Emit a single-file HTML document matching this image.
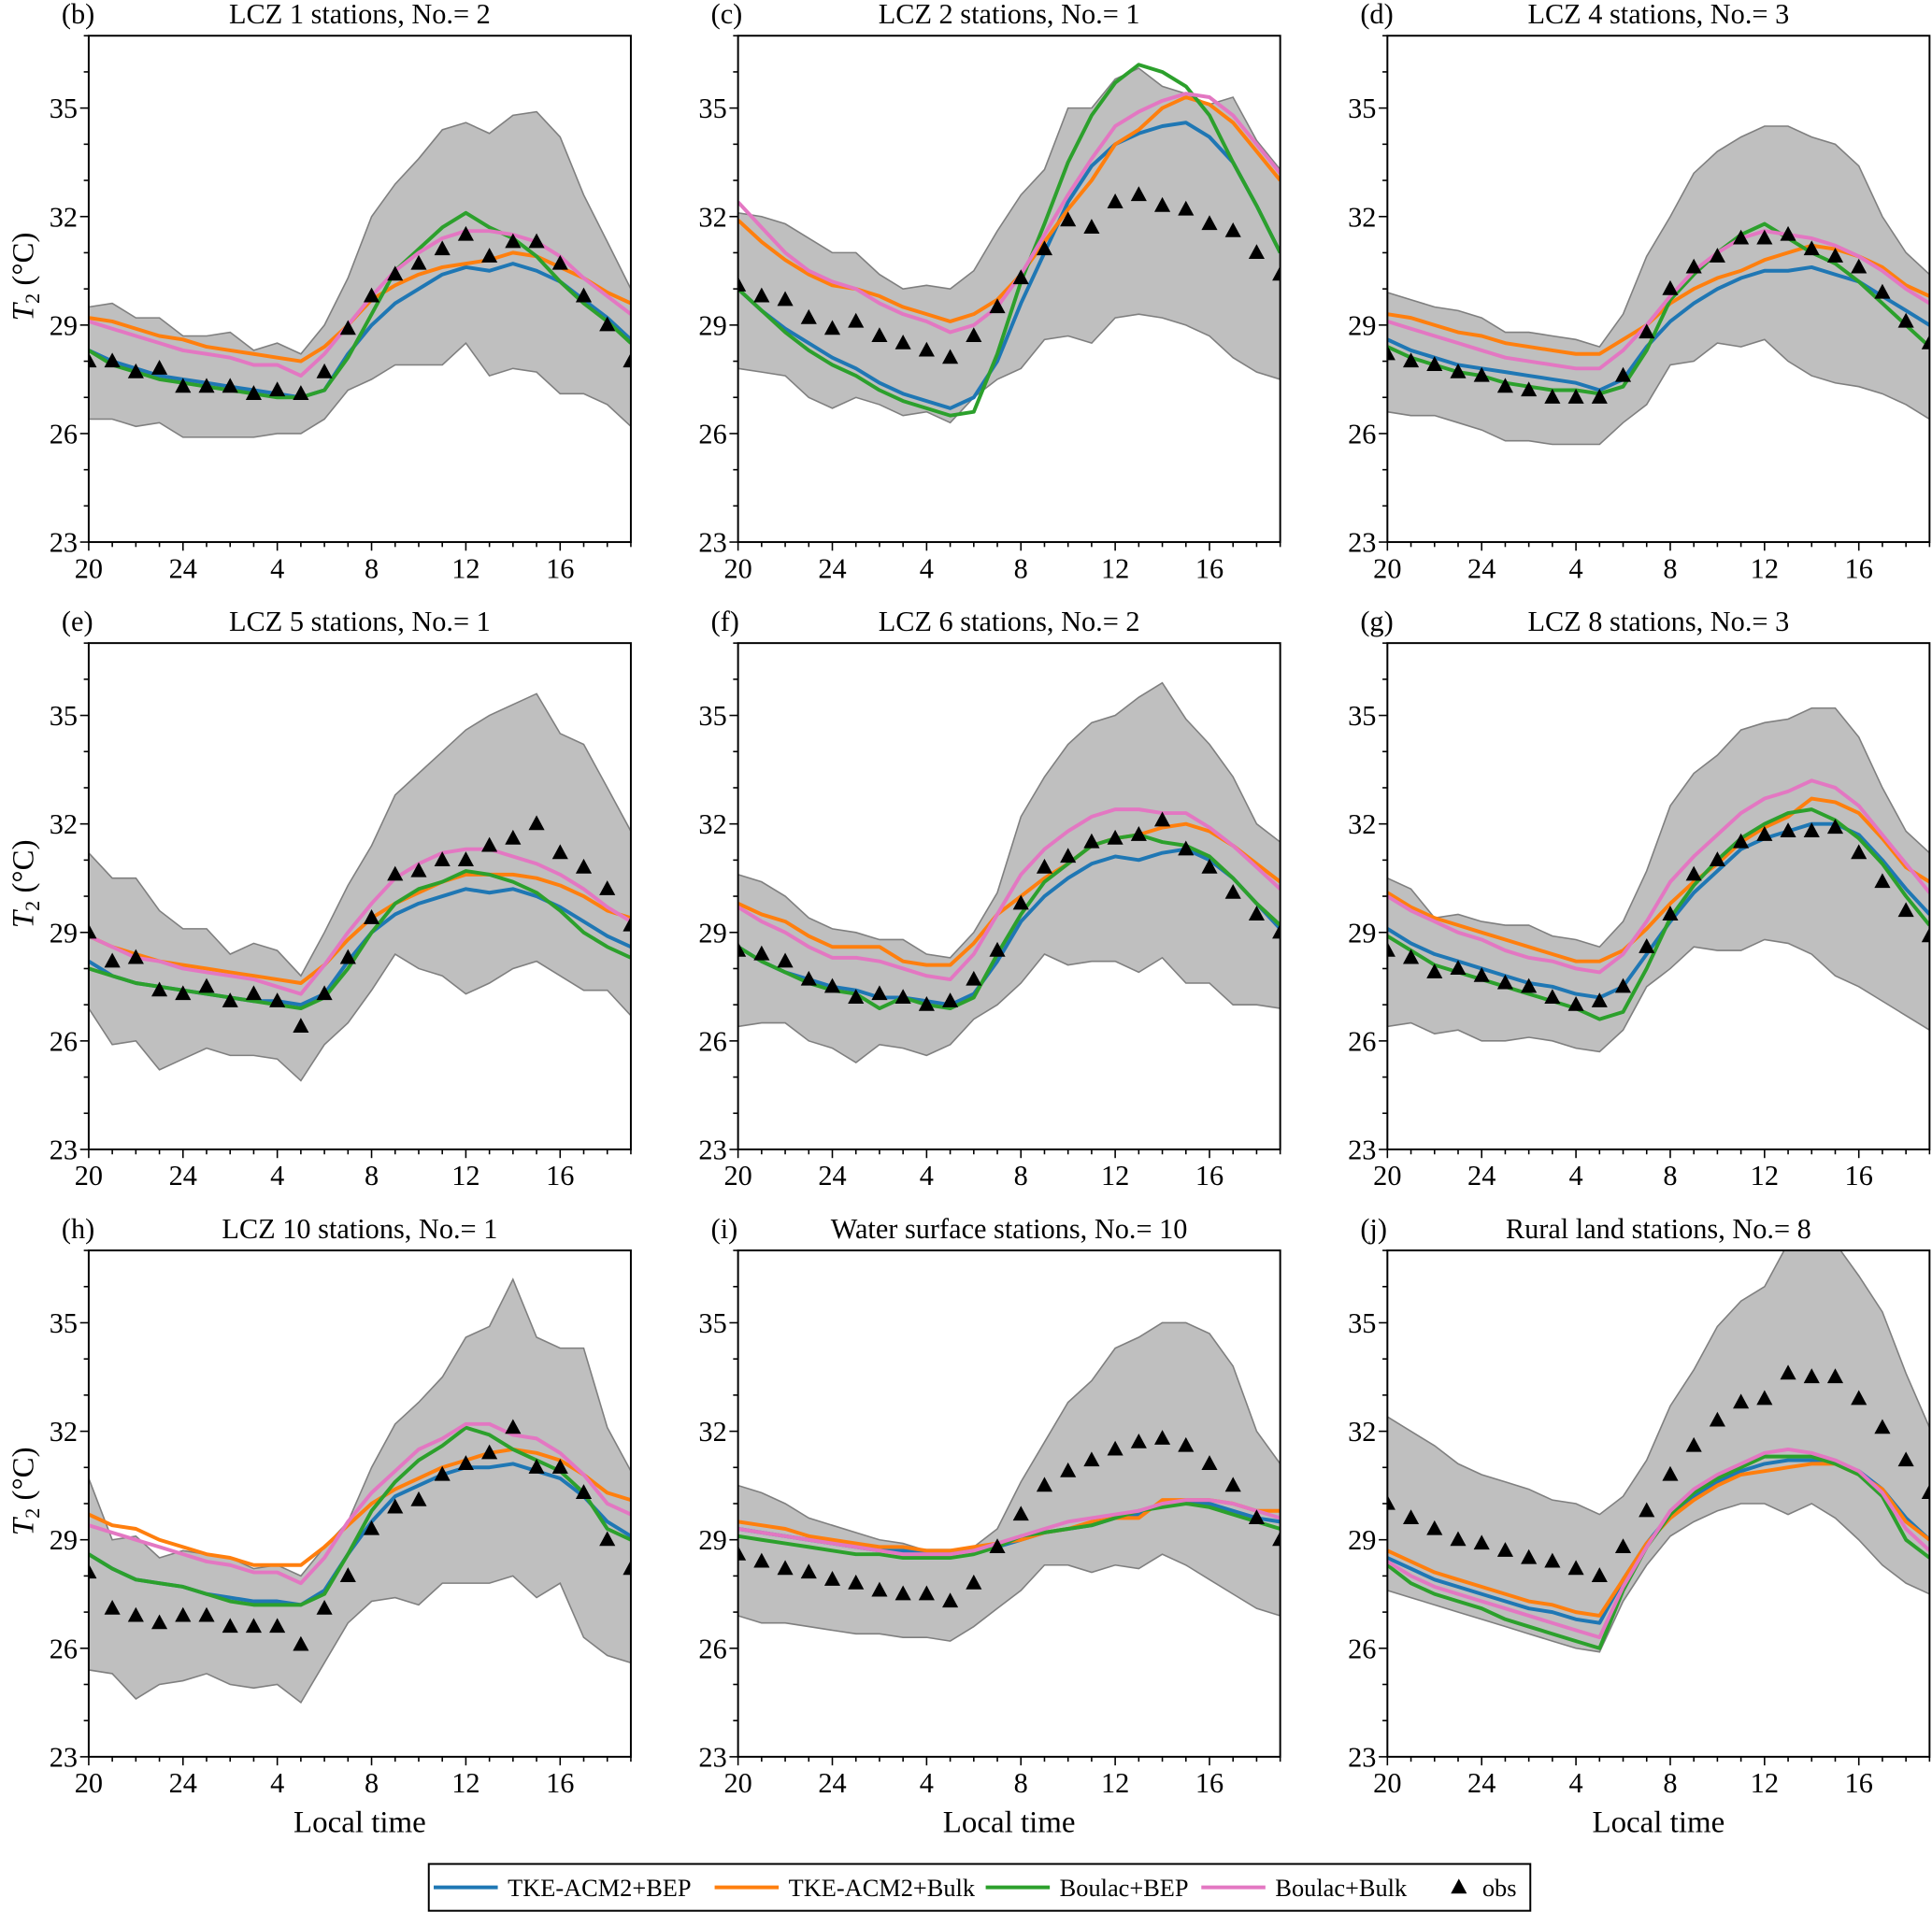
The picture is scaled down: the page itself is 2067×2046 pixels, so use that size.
<!DOCTYPE html>
<html><head><meta charset="utf-8"><style>
html,body{margin:0;padding:0;background:#fff;}
svg{display:block;font-family:"Liberation Serif",serif;}
</style></head><body>
<svg id="fig" width="2067" height="2046" viewBox="0 0 1568 1552" preserveAspectRatio="none" xmlns="http://www.w3.org/2000/svg"></svg>
<script>
const hours = [20,21,22,23,24,1,2,3,4,5,6,7,8,9,10,11,12,13,14,15,16,17,18,19];
const xTickLabels = ["20","24","4","8","12","16"];
const yTicks = [23,26,29,32,35];
const panelLetters = ["(b)","(c)","(d)","(e)","(f)","(g)","(h)","(i)","(j)"];
const panelTitles = ["LCZ 1 stations, No.= 2","LCZ 2 stations, No.= 1","LCZ 4 stations, No.= 3","LCZ 5 stations, No.= 1","LCZ 6 stations, No.= 2","LCZ 8 stations, No.= 3","LCZ 10 stations, No.= 1","Water surface stations, No.= 10","Rural land stations, No.= 8"];
const obs = [
[28.0,28.0,27.7,27.8,27.3,27.3,27.3,27.1,27.2,27.1,27.7,28.9,29.8,30.4,30.7,31.1,31.5,30.9,31.3,31.3,30.7,29.8,29.0,28.0],
[30.1,29.8,29.7,29.2,28.9,29.1,28.7,28.5,28.3,28.1,28.7,29.5,30.3,31.1,31.9,31.7,32.4,32.6,32.3,32.2,31.8,31.6,31.0,30.4],
[28.2,28.0,27.9,27.7,27.6,27.3,27.2,27.0,27.0,27.0,27.6,28.8,30.0,30.6,30.9,31.4,31.4,31.5,31.1,30.9,30.6,29.9,29.1,28.5],
[29.0,28.2,28.3,27.4,27.3,27.5,27.1,27.3,27.1,26.4,27.3,28.3,29.4,30.6,30.7,31.0,31.0,31.4,31.6,32.0,31.2,30.8,30.2,29.2],
[28.5,28.4,28.2,27.7,27.5,27.2,27.3,27.2,27.0,27.1,27.7,28.5,29.8,30.8,31.1,31.5,31.6,31.7,32.1,31.3,30.8,30.1,29.5,29.0],
[28.5,28.3,27.9,28.0,27.8,27.6,27.5,27.2,27.0,27.1,27.5,28.6,29.5,30.6,31.0,31.5,31.7,31.8,31.8,31.9,31.2,30.4,29.6,28.9],
[28.1,27.1,26.9,26.7,26.9,26.9,26.6,26.6,26.6,26.1,27.1,28.0,29.3,29.9,30.1,30.8,31.1,31.4,32.1,31.0,31.0,30.3,29.0,28.2],
[28.6,28.4,28.2,28.1,27.9,27.8,27.6,27.5,27.5,27.3,27.8,28.8,29.7,30.5,30.9,31.2,31.5,31.7,31.8,31.6,31.1,30.5,29.6,29.0],
[30.0,29.6,29.3,29.0,28.9,28.7,28.5,28.4,28.2,28.0,28.8,29.8,30.8,31.6,32.3,32.8,32.9,33.6,33.5,33.5,32.9,32.1,31.2,30.3]];
const tkeBep = [
[28.3,28.0,27.8,27.6,27.5,27.4,27.3,27.2,27.1,27.0,27.2,28.2,29.0,29.6,30.0,30.4,30.6,30.5,30.7,30.5,30.2,29.7,29.2,28.6],
[30.0,29.4,28.9,28.5,28.1,27.8,27.4,27.1,26.9,26.7,27.0,28.0,29.6,31.0,32.4,33.4,34.0,34.3,34.5,34.6,34.2,33.5,32.3,31.0],
[28.6,28.3,28.1,27.9,27.8,27.7,27.6,27.5,27.4,27.2,27.5,28.4,29.1,29.6,30.0,30.3,30.5,30.5,30.6,30.4,30.2,29.8,29.4,29.0],
[28.2,27.8,27.6,27.5,27.4,27.3,27.2,27.1,27.1,27.0,27.3,28.2,29.0,29.5,29.8,30.0,30.2,30.1,30.2,30.0,29.7,29.3,28.9,28.6],
[28.6,28.2,27.9,27.7,27.5,27.4,27.2,27.2,27.1,27.0,27.3,28.2,29.3,30.0,30.5,30.9,31.1,31.0,31.2,31.3,31.0,30.5,29.8,29.1],
[29.1,28.7,28.4,28.2,28.0,27.8,27.6,27.5,27.3,27.2,27.5,28.4,29.3,30.1,30.7,31.3,31.6,31.8,32.0,32.0,31.7,31.0,30.2,29.5],
[28.6,28.2,27.9,27.8,27.7,27.5,27.4,27.3,27.3,27.2,27.6,28.6,29.5,30.2,30.5,30.8,31.0,31.0,31.1,30.9,30.7,30.2,29.5,29.1],
[29.3,29.2,29.1,29.0,28.9,28.8,28.7,28.7,28.7,28.7,28.7,28.8,29.0,29.2,29.3,29.4,29.6,29.7,30.0,30.0,30.0,29.8,29.6,29.5],
[28.5,28.2,27.9,27.7,27.5,27.3,27.1,27.0,26.8,26.7,27.9,28.9,29.7,30.2,30.6,30.9,31.1,31.2,31.2,31.1,30.9,30.4,29.6,29.0]];
const tkeBulk = [
[29.2,29.1,28.9,28.7,28.6,28.4,28.3,28.2,28.1,28.0,28.4,29.0,29.7,30.1,30.4,30.6,30.7,30.8,31.0,30.9,30.6,30.3,29.9,29.6],
[31.9,31.3,30.8,30.4,30.1,30.0,29.8,29.5,29.3,29.1,29.3,29.7,30.4,31.3,32.2,33.0,34.0,34.4,35.0,35.3,35.1,34.6,33.8,33.0],
[29.3,29.2,29.0,28.8,28.7,28.5,28.4,28.3,28.2,28.2,28.6,29.0,29.6,30.0,30.3,30.5,30.8,31.0,31.2,31.1,30.9,30.6,30.1,29.8],
[28.9,28.6,28.4,28.2,28.1,28.0,27.9,27.8,27.7,27.6,28.1,28.8,29.4,29.8,30.1,30.4,30.6,30.6,30.6,30.5,30.3,30.0,29.6,29.4],
[29.8,29.5,29.3,28.9,28.6,28.6,28.6,28.2,28.1,28.1,28.7,29.5,30.0,30.5,30.9,31.4,31.6,31.7,31.9,32.0,31.8,31.4,30.9,30.4],
[30.1,29.7,29.4,29.2,29.0,28.8,28.6,28.4,28.2,28.2,28.5,29.1,29.8,30.4,30.9,31.5,31.9,32.2,32.7,32.6,32.3,31.6,30.8,30.4],
[29.7,29.4,29.3,29.0,28.8,28.6,28.5,28.3,28.3,28.3,28.8,29.4,30.0,30.4,30.7,31.0,31.2,31.4,31.5,31.4,31.2,30.8,30.3,30.1],
[29.5,29.4,29.3,29.1,29.0,28.9,28.8,28.8,28.7,28.7,28.8,28.9,29.0,29.2,29.3,29.5,29.6,29.6,30.1,30.1,30.1,30.0,29.8,29.8],
[28.7,28.4,28.1,27.9,27.7,27.5,27.3,27.2,27.0,26.9,27.9,28.9,29.6,30.1,30.5,30.8,30.9,31.0,31.1,31.1,30.8,30.4,29.5,29.0]];
const boulacBep = [
[28.3,27.9,27.7,27.5,27.4,27.3,27.2,27.1,27.0,27.0,27.2,28.1,29.3,30.5,31.1,31.7,32.1,31.7,31.4,30.9,30.2,29.6,29.1,28.5],
[30.0,29.4,28.8,28.3,27.9,27.6,27.2,26.9,26.7,26.5,26.6,28.2,30.2,31.8,33.5,34.8,35.7,36.2,36.0,35.6,34.8,33.5,32.3,31.0],
[28.4,28.1,27.9,27.7,27.6,27.4,27.3,27.2,27.2,27.1,27.3,28.3,29.7,30.4,31.0,31.5,31.8,31.4,31.0,30.7,30.2,29.6,29.0,28.4],
[28.0,27.8,27.6,27.5,27.4,27.3,27.2,27.1,27.0,26.9,27.2,28.0,29.0,29.8,30.2,30.4,30.7,30.6,30.4,30.1,29.6,29.0,28.6,28.3],
[28.6,28.2,27.9,27.6,27.4,27.3,26.9,27.2,27.0,26.9,27.2,28.4,29.5,30.4,30.9,31.4,31.6,31.7,31.5,31.4,31.1,30.5,29.8,29.2],
[28.9,28.5,28.1,27.9,27.7,27.5,27.3,27.1,26.9,26.6,26.8,28.0,29.4,30.3,31.0,31.6,32.0,32.3,32.4,32.1,31.6,30.9,30.0,29.2],
[28.6,28.2,27.9,27.8,27.7,27.5,27.3,27.2,27.2,27.2,27.5,28.6,29.8,30.6,31.2,31.6,32.1,31.9,31.5,31.2,30.9,30.3,29.3,29.0],
[29.1,29.0,28.9,28.8,28.7,28.6,28.6,28.5,28.5,28.5,28.6,28.8,29.1,29.2,29.3,29.4,29.6,29.8,29.9,30.0,29.9,29.7,29.5,29.3],
[28.3,27.8,27.5,27.3,27.1,26.8,26.6,26.4,26.2,26.0,27.6,28.8,29.7,30.3,30.7,31.0,31.3,31.3,31.3,31.1,30.8,30.2,29.0,28.5]];
const boulacBulk = [
[29.1,28.9,28.7,28.5,28.3,28.2,28.1,27.9,27.9,27.6,28.2,29.0,29.8,30.5,31.0,31.4,31.6,31.6,31.5,31.3,30.9,30.3,29.8,29.3],
[32.4,31.7,31.0,30.5,30.2,30.0,29.6,29.3,29.1,28.8,29.0,29.5,30.4,31.5,32.6,33.6,34.5,34.9,35.2,35.4,35.3,34.8,34.0,33.2],
[29.1,28.9,28.7,28.5,28.3,28.1,28.0,27.9,27.8,27.8,28.3,29.0,29.8,30.5,31.0,31.4,31.6,31.5,31.4,31.2,30.9,30.5,30.0,29.6],
[28.9,28.6,28.3,28.2,28.0,27.9,27.8,27.7,27.5,27.3,28.1,29.0,29.8,30.5,30.9,31.2,31.3,31.3,31.1,30.9,30.6,30.2,29.7,29.3],
[29.7,29.3,29.0,28.6,28.3,28.3,28.2,28.0,27.8,27.7,28.4,29.5,30.6,31.3,31.8,32.2,32.4,32.4,32.3,32.3,31.9,31.4,30.8,30.2],
[30.0,29.6,29.3,29.0,28.8,28.5,28.3,28.2,28.0,27.9,28.4,29.3,30.4,31.1,31.7,32.3,32.7,32.9,33.2,33.0,32.5,31.7,30.9,30.1],
[29.4,29.2,29.0,28.8,28.6,28.4,28.3,28.1,28.1,27.8,28.5,29.5,30.3,30.9,31.5,31.8,32.2,32.2,31.9,31.8,31.4,30.8,30.0,29.7],
[29.3,29.2,29.1,29.0,28.9,28.8,28.7,28.6,28.6,28.6,28.7,28.9,29.1,29.3,29.5,29.6,29.7,29.8,30.0,30.1,30.1,30.0,29.8,29.6],
[28.4,28.0,27.7,27.5,27.3,27.1,26.9,26.7,26.5,26.3,27.7,28.8,29.8,30.4,30.8,31.1,31.4,31.5,31.4,31.2,30.9,30.3,29.3,28.7]];
const bandUpper = [
[29.5,29.6,29.2,29.2,28.7,28.7,28.8,28.3,28.5,28.2,29.0,30.3,32.0,32.9,33.6,34.4,34.6,34.3,34.8,34.9,34.2,32.6,31.3,30.0],
[32.1,32.0,31.8,31.4,31.0,31.0,30.4,30.0,30.1,30.0,30.5,31.6,32.6,33.3,35.0,35.0,35.8,36.1,35.6,35.4,35.1,35.3,34.1,33.3],
[29.9,29.7,29.5,29.4,29.2,28.8,28.8,28.7,28.6,28.4,29.3,30.9,32.0,33.2,33.8,34.2,34.5,34.5,34.2,34.0,33.4,32.0,31.0,30.4],
[31.2,30.5,30.5,29.6,29.1,29.1,28.4,28.7,28.5,27.8,29.0,30.3,31.4,32.8,33.4,34.0,34.6,35.0,35.3,35.6,34.5,34.2,33.0,31.8],
[30.6,30.4,30.0,29.4,29.1,29.0,28.8,28.8,28.4,28.3,29.0,30.1,32.2,33.3,34.2,34.8,35.0,35.5,35.9,34.9,34.2,33.3,32.0,31.5],
[30.5,30.2,29.4,29.5,29.3,29.2,29.2,28.9,28.8,28.6,29.3,30.7,32.5,33.4,33.9,34.6,34.8,34.9,35.2,35.2,34.4,33.0,31.8,31.2],
[30.7,29.0,29.1,28.5,28.7,28.6,28.5,28.2,28.3,28.0,28.8,29.5,31.0,32.2,32.8,33.5,34.6,34.9,36.2,34.6,34.3,34.3,32.1,30.9],
[30.5,30.3,30.0,29.6,29.4,29.2,29.0,28.9,28.7,28.7,28.8,29.3,30.6,31.7,32.8,33.4,34.3,34.6,35.0,35.0,34.7,33.8,32.0,31.1],
[32.4,32.0,31.6,31.1,30.8,30.6,30.4,30.1,30.0,29.7,30.2,31.2,32.7,33.7,34.9,35.6,36.0,37.2,37.2,37.2,36.3,35.3,33.6,32.1]];
const bandLower = [
[26.4,26.4,26.2,26.3,25.9,25.9,25.9,25.9,26.0,26.0,26.4,27.2,27.5,27.9,27.9,27.9,28.5,27.6,27.8,27.7,27.1,27.1,26.8,26.2],
[27.8,27.7,27.6,27.0,26.7,27.0,26.8,26.5,26.6,26.3,27.0,27.5,27.8,28.6,28.7,28.5,29.2,29.3,29.2,29.0,28.7,28.1,27.7,27.5],
[26.6,26.5,26.5,26.3,26.1,25.8,25.8,25.7,25.7,25.7,26.3,26.8,27.9,28.0,28.5,28.4,28.6,28.0,27.6,27.4,27.3,27.1,26.8,26.4],
[26.9,25.9,26.0,25.2,25.5,25.8,25.6,25.6,25.5,24.9,25.9,26.5,27.4,28.4,28.0,27.8,27.3,27.6,28.0,28.2,27.8,27.4,27.4,26.7],
[26.4,26.5,26.5,26.0,25.8,25.4,25.9,25.8,25.6,25.9,26.6,27.0,27.6,28.4,28.1,28.2,28.2,27.9,28.3,27.6,27.6,27.0,27.0,26.9],
[26.4,26.5,26.2,26.3,26.0,26.0,26.1,26.0,25.8,25.7,26.3,27.5,28.0,28.6,28.5,28.5,28.8,28.7,28.4,27.8,27.5,27.1,26.7,26.3],
[25.4,25.3,24.6,25.0,25.1,25.3,25.0,24.9,25.0,24.5,25.6,26.7,27.3,27.4,27.2,27.8,27.8,27.8,28.0,27.4,27.8,26.3,25.8,25.6],
[26.9,26.7,26.7,26.6,26.5,26.4,26.4,26.3,26.3,26.2,26.6,27.1,27.6,28.3,28.3,28.1,28.3,28.2,28.6,28.3,27.9,27.5,27.1,26.9],
[27.6,27.4,27.2,27.0,26.8,26.6,26.4,26.2,26.0,25.9,27.3,28.3,29.1,29.5,29.8,30.0,30.0,29.7,30.0,29.6,29.0,28.3,27.8,27.5]];
const seriesNames = ["TKE-ACM2+BEP","TKE-ACM2+Bulk","Boulac+BEP","Boulac+Bulk"];

const NS="http://www.w3.org/2000/svg";
const svg=document.getElementById('fig');
function mk(tag,attrs,parent){const e=document.createElementNS(NS,tag);for(const k in attrs)e.setAttribute(k,attrs[k]);(parent||svg).appendChild(e);return e;}
const colX=[72,599,1126], rowY=[29,522,1015], W=440, H=411, YMIN=23, YMAX=37;
const colors=["#1f77b4","#ff7f0e","#2ca02c","#e377c2"];
const series=[tkeBep,tkeBulk,boulacBep,boulacBulk];
const keys=["tke-acm2-bep","tke-acm2-bulk","boulac-bep","boulac-bulk"];

for(let p=0;p<9;p++){
  const c=p%3, r=Math.floor(p/3), x0=colX[c], y0=rowY[r];
  const xs=i=>x0+i*W/23;
  const ys=v=>y0+H-(v-YMIN)*H/(YMAX-YMIN);
  const g=mk('g',{});
  
  
  const cp=mk('clipPath',{id:'cp'+p},g);
  mk('rect',{x:x0,y:y0,width:W,height:H},cp);
  const pg=mk('g',{'clip-path':'url(#cp'+p+')'},g);
  // band
  let d='';
  bandUpper[p].forEach((v,i)=>{d+=(i?'L':'M')+xs(i).toFixed(1)+' '+ys(v).toFixed(1);});
  for(let i=23;i>=0;i--)d+='L'+xs(i).toFixed(1)+' '+ys(bandLower[p][i]).toFixed(1);
  const band=mk('path',{d:d+'Z',fill:'#bfbfbf',stroke:'#7f7f7f','stroke-width':1.2},pg);
  
  
  series.forEach((s,k)=>{
    const pts=s[p].map((v,i)=>xs(i).toFixed(1)+','+ys(v).toFixed(1)).join(' ');
    const l=mk('polyline',{points:pts,fill:'none',stroke:colors[k],'stroke-width':3,'stroke-linejoin':'round'},pg);
    
    
  });
  obs[p].forEach((v,i)=>{
    const cx=xs(i), cy=ys(v);
    const t=mk('polygon',{points:`${cx},${cy-7} ${cx-6.5},${cy+5} ${cx+6.5},${cy+5}`,fill:'#000'},pg);
    
    
  });
  // frame
  mk('rect',{x:x0,y:y0,width:W,height:H,fill:'none',stroke:'#000','stroke-width':1.5},g);
  // y ticks
  for(let v=YMIN;v<=YMAX;v++){
    const major=yTicks.includes(v);
    mk('line',{x1:x0,x2:x0-(major?7:4),y1:ys(v),y2:ys(v),stroke:'#000','stroke-width':1.2},g);
  }
  yTicks.forEach(v=>{
    const t=mk('text',{x:x0-9,y:ys(v)+8,'text-anchor':'end','font-size':23},g);t.textContent=v;
    
    
  });
  for(let i=0;i<24;i++){
    const major=i%4===0;
    mk('line',{x1:xs(i),x2:xs(i),y1:y0+H,y2:y0+H+(major?7:4),stroke:'#000','stroke-width':1.2},g);
  }
  xTickLabels.forEach((lab,j)=>{
    const t=mk('text',{x:xs(j*4),y:y0+H+29,'text-anchor':'middle','font-size':23},g);t.textContent=lab;
    
    
  });
  const lt=mk('text',{x:x0-22,y:y0-10,'font-size':23},g);lt.textContent=panelLetters[p];
  
  
  const tt=mk('text',{x:x0+W/2,y:y0-10,'text-anchor':'middle','font-size':23},g);tt.textContent=panelTitles[p];
  
  
  if(c===0){
    const yc=y0+H/2-10;
    const yl=mk('text',{x:0,y:0,'text-anchor':'middle','font-size':25,transform:`translate(27,${yc}) rotate(-90)`},g);
    yl.innerHTML='<tspan font-style="italic">T</tspan><tspan font-size="17" dy="5">2</tspan><tspan dy="-5"> (°C)</tspan>';
    
    
  }
  if(r===2){
    const xl=mk('text',{x:x0+W/2,y:y0+H+61,'text-anchor':'middle','font-size':25},g);xl.textContent='Local time';
    
    
  }
}
// legend
const lg=mk('g',{});


mk('rect',{x:348,y:1513,width:894,height:38,fill:'#fff',stroke:'#000','stroke-width':1.5},lg);
const lx=[352,580,800,975];
seriesNames.forEach((n,k)=>{
  const e=mk('g',{},lg);
  
  
  mk('line',{x1:lx[k],x2:lx[k]+52,y1:1532,y2:1532,stroke:colors[k],'stroke-width':3},e);
  const t=mk('text',{x:lx[k]+60,y:1539,'font-size':20},e);t.textContent=n;
});
const oe=mk('g',{},lg);


mk('polygon',{points:'1184,1525 1177.5,1537 1190.5,1537',fill:'#000'},oe);
const ot=mk('text',{x:1203,y:1539,'font-size':20},oe);ot.textContent='obs';
</script>
</body></html>
